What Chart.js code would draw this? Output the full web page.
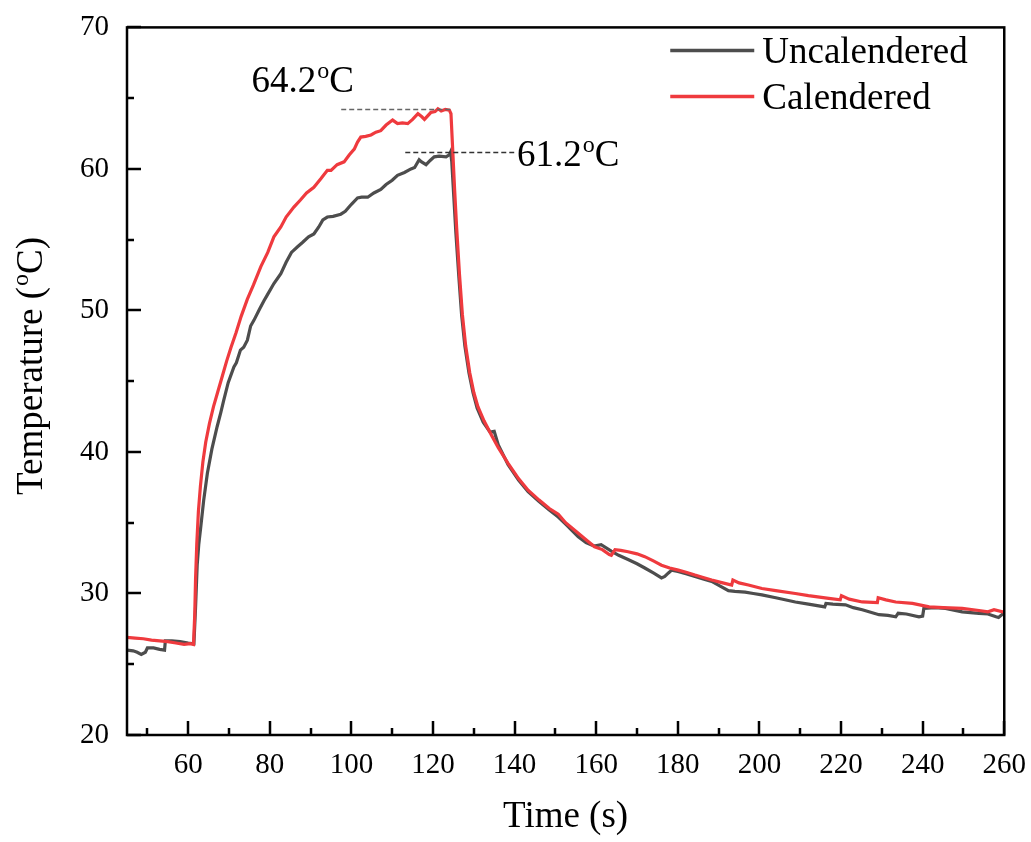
<!DOCTYPE html>
<html>
<head>
  <title>Temperature vs Time</title>
  <script src="https://cdn.jsdelivr.net/npm/chart.js"></script>
  <style>
    body {
      margin: 0;
      background: #ffffff;
    }
    #wrap {
      width: 1031px;
      height: 842px;
    }
  </style>
</head>
<body>
  <div id="wrap"><canvas id="chart" width="1031" height="842"></canvas></div>

  <script>
    // values (time in s, temperature in oC)
    const timeUncal = [45, 46.5, 47.5, 48.5, 49.5, 50, 51.5, 53, 54.2, 54.4, 56, 58, 60, 61.4, 61.8, 62.2, 62.6, 63.0, 63.8,
      64.7, 65.8, 67.1, 68.0, 68.7, 69.8, 71.2, 71.8, 72.8, 73.6, 74.5, 75.3, 76.1, 77.5, 78.6, 79.4, 81, 82.7, 84,
      85.3, 86.8, 88, 89.5, 90.8, 92, 93, 94.1, 95.5, 97.4, 98.5, 100, 101.5, 102.5, 104, 105.5, 107.2, 108.5, 110,
      111.3, 113, 114.6, 115.5, 116.6, 117.2, 118.3, 119.3, 120.3, 121.5, 123.2, 124.0, 124.3, 124.6, 125.1, 125.6,
      126.3, 127.0, 127.8, 128.8, 129.8, 130.8, 132.3, 134, 135, 136, 138.4, 141, 143.3, 146, 148.5, 150.7, 152.5,
      155.6, 157.5, 159.5, 161.2, 163.7, 165.5, 167.8, 170, 171.9, 174, 176.0, 176.8, 177.7, 178.5, 180, 182, 184.2,
      186, 188.3, 190.5, 192.4, 194, 196.5, 198.5, 200.6, 204, 208.8, 212, 216, 216.3, 218, 221.1, 223, 225.2, 229.3,
      231.5, 233.4, 234, 236, 239.1, 240.0, 240.3, 243, 245.6, 249.7, 253.8, 256, 258, 258.6, 259.6, 260];
    const tempUncal = [26.0, 25.95, 25.85, 25.7, 25.85, 26.15, 26.15, 26.05, 26.0, 26.65, 26.65, 26.6, 26.5, 26.45, 29.0,
      32.0, 33.5, 34.5, 36.6, 38.5, 40.2, 41.8, 42.8, 43.65, 44.9, 46.0, 46.3, 47.2, 47.4, 47.9, 48.9, 49.3, 50.1,
      50.7, 51.1, 51.9, 52.6, 53.4, 54.1, 54.5, 54.8, 55.2, 55.4, 55.9, 56.4, 56.6, 56.65, 56.8, 57.0, 57.5, 57.95,
      58.0, 58.0, 58.3, 58.55, 58.9, 59.2, 59.55, 59.75, 60.0, 60.1, 60.65, 60.5, 60.3, 60.6, 60.85, 60.9, 60.85,
      61.0, 61.2, 60.5, 58.0, 55.5, 52.5, 49.7, 47.5, 45.6, 44.2, 43.1, 42.1, 41.4, 41.45, 40.5, 39.1, 38.0, 37.2,
      36.5, 35.9, 35.4, 34.9, 34.0, 33.6, 33.35, 33.45, 33.0, 32.7, 32.4, 32.1, 31.8, 31.45, 31.1, 31.2, 31.45,
      31.65, 31.55, 31.4, 31.2, 31.05, 30.85, 30.5, 30.2, 30.15, 30.1, 30.0, 29.9, 29.7, 29.4, 29.25, 29.05, 29.3,
      29.25, 29.2, 29.0, 28.85, 28.5, 28.45, 28.35, 28.6, 28.55, 28.35, 28.4, 28.95, 29.0, 28.95, 28.7, 28.6, 28.55,
      28.35, 28.3, 28.55, 28.5];

    const timeCal = [45, 47, 49, 51, 53, 55, 57, 59, 60.5, 61.3, 61.6, 61.8, 62.1, 62.5, 63.0, 63.6, 64.3, 65.2, 66.2,
      67.2, 68.3, 69.4, 70.5, 71.7, 73.0, 74.5, 76.0, 77.8, 79.5, 81.0, 82.7, 84.0, 85.9, 87.5, 89.0, 90.8, 92.5,
      94.1, 95.0, 96.5, 98.2, 99.5, 100.7, 101.5, 102.3, 103.5, 104.8, 106, 107.2, 108.5, 110.1, 111.3, 112.5, 113.8,
      115, 116.3, 117.2, 117.9, 119.5, 120.5, 121.2, 122, 123, 124.0, 124.4, 124.8, 125.3, 125.8, 126.5, 127.2, 128.0,
      129.0, 130.0, 131.0, 132.5, 134.3, 136, 138.4, 141, 143.3, 146, 148.5, 150.7, 152.5, 155.6, 157.5, 159.6,
      161.5, 163.2, 163.7, 164.6, 166, 167.8, 170, 171.9, 174, 176.0, 178, 180.1, 182, 184.2, 186, 188.3, 191, 193.2,
      193.5, 195, 197.3, 200.6, 204, 208.8, 212, 217.0, 219.8, 220.1, 222, 225.2, 228.9, 229.1, 231, 233.4, 237.5,
      241.6, 245, 249.7, 253.8, 256, 257.5, 259.6, 260];
    const tempCal = [26.9, 26.85, 26.8, 26.7, 26.65, 26.6, 26.5, 26.4, 26.45, 26.4, 28.5, 31.0, 33.5, 35.8, 37.6, 39.3,
      40.7, 42.0, 43.2, 44.2, 45.3, 46.4, 47.4, 48.4, 49.6, 50.8, 51.8, 53.1, 54.1, 55.2, 55.9, 56.6, 57.3, 57.8,
      58.3, 58.7, 59.3, 59.9, 59.9, 60.3, 60.5, 61.0, 61.4, 61.9, 62.25, 62.3, 62.4, 62.6, 62.7, 63.1, 63.45, 63.2,
      63.25, 63.2, 63.5, 63.9, 63.7, 63.5, 64.0, 64.05, 64.25, 64.1, 64.2, 64.15, 63.9, 61.5, 58.5, 55.8, 52.5, 49.7,
      47.5, 45.6, 44.2, 43.2, 42.2, 41.2, 40.3, 39.2, 38.1, 37.3, 36.6, 36.0, 35.6, 35.0, 34.25, 33.8, 33.3, 33.1,
      32.75, 32.7, 33.1, 33.05, 32.95, 32.8, 32.6, 32.3, 32.0, 31.8, 31.65, 31.5, 31.3, 31.15, 30.95, 30.75, 30.6,
      30.95, 30.75, 30.6, 30.35, 30.2, 30.0, 29.85, 29.65, 29.55, 29.85, 29.6, 29.4, 29.35, 29.7, 29.55, 29.4, 29.3,
      29.05, 29.0, 28.95, 28.8, 28.7, 28.85, 28.7, 28.75];

    const seriesNames = ["Uncalendered", "Calendered"];
    const seriesColors = ["#4d4d4d", "#ef3a3e"];

    const xTicks = [60, 80, 100, 120, 140, 160, 180, 200, 220, 240, 260];
    const xMinorTicks = [50, 70, 90, 110, 130, 150, 170, 190, 210, 230, 250];
    const yTicks = [20, 30, 40, 50, 60, 70];
    const yMinorTicks = [25, 35, 45, 55, 65];

    // peak markers: value, dashed line from / to (s)
    const peakValues = [64.2, 61.2];
    const peakLineFrom = [97.5, 113.2];
    const peakLineTo = [124.3, 139.9];

    const FONT = "'Liberation Serif', 'Times New Roman', serif";

    function toPoints(xs, ys) {
      return xs.map((x, i) => ({ x: x, y: ys[i] }));
    }

    // text followed by a raised "o" and "C" (e.g. 64.2 oC)
    function drawDegText(ctx, before, after, x, y, size) {
      const sup = Math.round(size * 0.64);
      ctx.font = size + "px " + FONT;
      ctx.fillText(before, x, y);
      x += ctx.measureText(before).width + 1;
      ctx.font = sup + "px " + FONT;
      ctx.fillText("o", x, y - size * 0.37);
      x += ctx.measureText("o").width;
      ctx.font = size + "px " + FONT;
      ctx.fillText(after, x, y);
    }

    function degTextWidth(ctx, before, after, size) {
      const sup = Math.round(size * 0.64);
      ctx.font = size + "px " + FONT;
      let w = ctx.measureText(before).width + ctx.measureText(after).width + 1;
      ctx.font = sup + "px " + FONT;
      return w + ctx.measureText("o").width;
    }

    const decorPlugin = {
      id: "decor",
      afterDatasetsDraw(chart) {
        const ctx = chart.ctx;
        const area = chart.chartArea;
        const xs = chart.scales.x;
        const ys = chart.scales.y;
        ctx.save();

        // inward tick marks
        ctx.strokeStyle = "#000";
        ctx.lineWidth = 2.5;
        ctx.beginPath();
        xTicks.forEach(v => {
          const p = Math.round(xs.getPixelForValue(v));
          ctx.moveTo(p, area.bottom);
          ctx.lineTo(p, area.bottom - 14);
        });
        xMinorTicks.forEach(v => {
          const p = Math.round(xs.getPixelForValue(v));
          ctx.moveTo(p, area.bottom);
          ctx.lineTo(p, area.bottom - 7);
        });
        yTicks.forEach(v => {
          const p = Math.round(ys.getPixelForValue(v));
          ctx.moveTo(area.left, p);
          ctx.lineTo(area.left + 14, p);
        });
        yMinorTicks.forEach(v => {
          const p = Math.round(ys.getPixelForValue(v));
          ctx.moveTo(area.left, p);
          ctx.lineTo(area.left + 7, p);
        });
        ctx.stroke();

        // frame
        ctx.lineWidth = 2.5;
        ctx.strokeRect(area.left, area.top, area.right - area.left, area.bottom - area.top);

        // dashed peak lines
        ctx.lineWidth = 1.3;
        ctx.setLineDash([5, 3]);
        peakValues.forEach((v, i) => {
          const py = Math.round(ys.getPixelForValue(v)) + 0.5;
          ctx.strokeStyle = i === 0 ? "#666" : "#333";
          ctx.beginPath();
          ctx.moveTo(xs.getPixelForValue(peakLineFrom[i]), py);
          ctx.lineTo(xs.getPixelForValue(peakLineTo[i]), py);
          ctx.stroke();
        });
        ctx.setLineDash([]);

        // peak labels
        ctx.fillStyle = "#000";
        ctx.textAlign = "left";
        ctx.textBaseline = "alphabetic";
        drawDegText(ctx, peakValues[0].toFixed(1), "C",
          xs.getPixelForValue(75.5), ys.getPixelForValue(65.45), 37);
        drawDegText(ctx, peakValues[1].toFixed(1), "C",
          xs.getPixelForValue(140.6), ys.getPixelForValue(60.2), 37);

        // legend
        ctx.font = "37px " + FONT;
        seriesNames.forEach((name, i) => {
          const ly = area.top + 23 + i * 46;
          ctx.strokeStyle = seriesColors[i];
          ctx.lineWidth = 3.5;
          ctx.beginPath();
          ctx.moveTo(area.right - 334, ly);
          ctx.lineTo(area.right - 250, ly);
          ctx.stroke();
          ctx.fillStyle = "#000";
          ctx.fillText(name, area.right - 242, ly + 13);
        });

        // y axis title
        const w = degTextWidth(ctx, "Temperature (", "C)", 37);
        ctx.translate(42, 366);
        ctx.rotate(-Math.PI / 2);
        drawDegText(ctx, "Temperature (", "C)", -w / 2, 0, 37);

        ctx.restore();
      }
    };

    const ctx = document.getElementById("chart").getContext("2d");
    new Chart(ctx, {
      type: "line",
      data: {
        datasets: [
          {
            label: seriesNames[0],
            data: toPoints(timeUncal, tempUncal),
            borderColor: seriesColors[0],
            borderWidth: 3.2,
            pointRadius: 0,
            tension: 0,
            fill: false,
            order: 1
          },
          {
            label: seriesNames[1],
            data: toPoints(timeCal, tempCal),
            borderColor: seriesColors[1],
            borderWidth: 3.2,
            pointRadius: 0,
            tension: 0,
            fill: false,
            order: 0
          }
        ]
      },
      options: {
        responsive: false,
        animation: false,
        layout: { padding: { top: 21, right: 24, left: 0, bottom: 0 } },
        plugins: {
          legend: { display: false },
          tooltip: { enabled: false }
        },
        scales: {
          x: {
            type: "linear",
            min: 45,
            max: 260,
            afterBuildTicks: s => { s.ticks = xTicks.map(v => ({ value: v })); },
            afterFit: s => { s.height = 107; },
            grid: { display: false },
            border: { display: false },
            ticks: {
              color: "#000",
              font: { family: FONT, size: 29 },
              padding: 5,
              maxRotation: 0
            },
            title: {
              display: true,
              text: "Time (s)",
              color: "#000",
              font: { family: FONT, size: 37 },
              padding: { top: 0, bottom: 3 }
            }
          },
          y: {
            type: "linear",
            min: 20,
            max: 70,
            afterBuildTicks: s => { s.ticks = yTicks.map(v => ({ value: v })); },
            afterFit: s => { s.width = 127; },
            grid: { display: false },
            border: { display: false },
            ticks: {
              color: "#000",
              font: { family: FONT, size: 29 },
              padding: 10
            }
          }
        }
      },
      plugins: [decorPlugin]
    });
  </script>
</body>
</html>
